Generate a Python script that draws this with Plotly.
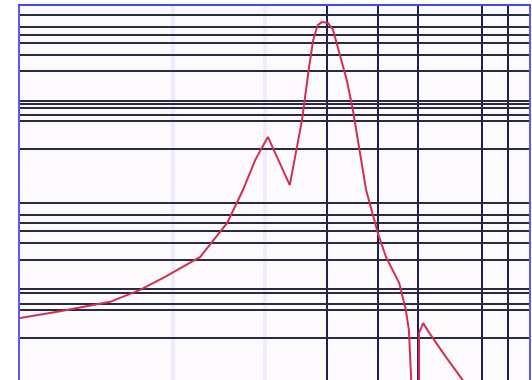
import plotly.graph_objects as go

# Response curve (x: relative position 0-100, y: relative level 0-100)
curve_x = [0, 7.9, 17.7, 23.6, 28.5, 32.8, 35.4, 40.7, 43.8, 46.2, 48.7, 53.0, 55.4, 56.8,
           57.6, 58.5, 59.3, 60.5, 61.5, 63.5, 64.2, 65.4, 68.0, 70.3, 71.9, 74.5,
           75.8, 76.4, 77.0, 78.4, 78.4, 79.2, 80.4, 83.7, 87.0, 88.4]
curve_y = [16.6, 18.4, 20.9, 24.1, 27.6, 31.0, 32.9, 42.0, 50.8, 58.8, 65.0, 52.1, 69.5, 83.7,
           90.9, 94.9, 95.7, 95.5, 93.6, 83.7, 80.2, 72.2, 50.8, 39.3, 32.9, 25.9,
           18.7, 13.4, -4, -4, 12.6, 15.2, 12.6, 6.1, 0, -2.7]

# Grid positions
h_grid = [97.6, 94.4, 92.2, 90.1, 86.9, 82.6, 74.6, 73.8, 72.7, 70.9, 69.3, 61.8,
          47.3, 44.1, 42.0, 39.8, 36.6, 32.1, 24.3, 23.3, 20.3, 18.7, 11.2]
v_grid = [60.3, 70.3, 78.2, 90.8, 95.9]
v_faint = [30.1, 48.1]

fig = go.Figure()
fig.add_trace(go.Scatter(
    x=curve_x, y=curve_y, mode="lines",
    line=dict(color="#d0304e", width=2),
    hoverinfo="skip", showlegend=False,
))

fig.update_layout(
    width=532, height=380,
    margin=dict(l=20, r=3, t=6, b=0),
    paper_bgcolor="white",
    plot_bgcolor="#fdfafd",
    showlegend=False,
)
fig.update_xaxes(
    range=[0, 100], side="top",
    tickvals=v_grid, showticklabels=False, ticks="",
    showgrid=True, gridcolor="#1e1e58", gridwidth=2,
    minor=dict(tickvals=v_faint, showgrid=True, gridcolor="#efebf9", gridwidth=4, ticks=""),
    zeroline=False,
    showline=True, linecolor="#4848e8", linewidth=2,
)
fig.update_yaxes(
    range=[0, 100],
    tickvals=h_grid, showticklabels=False, ticks="",
    showgrid=True, gridcolor="#2a2a40", gridwidth=2,
    zeroline=False,
    showline=True, mirror=True, linecolor="#5a5af0", linewidth=2,
)

fig.write_html("out.html", config={"displayModeBar": False},
               post_script="document.body.style.margin='0';")
